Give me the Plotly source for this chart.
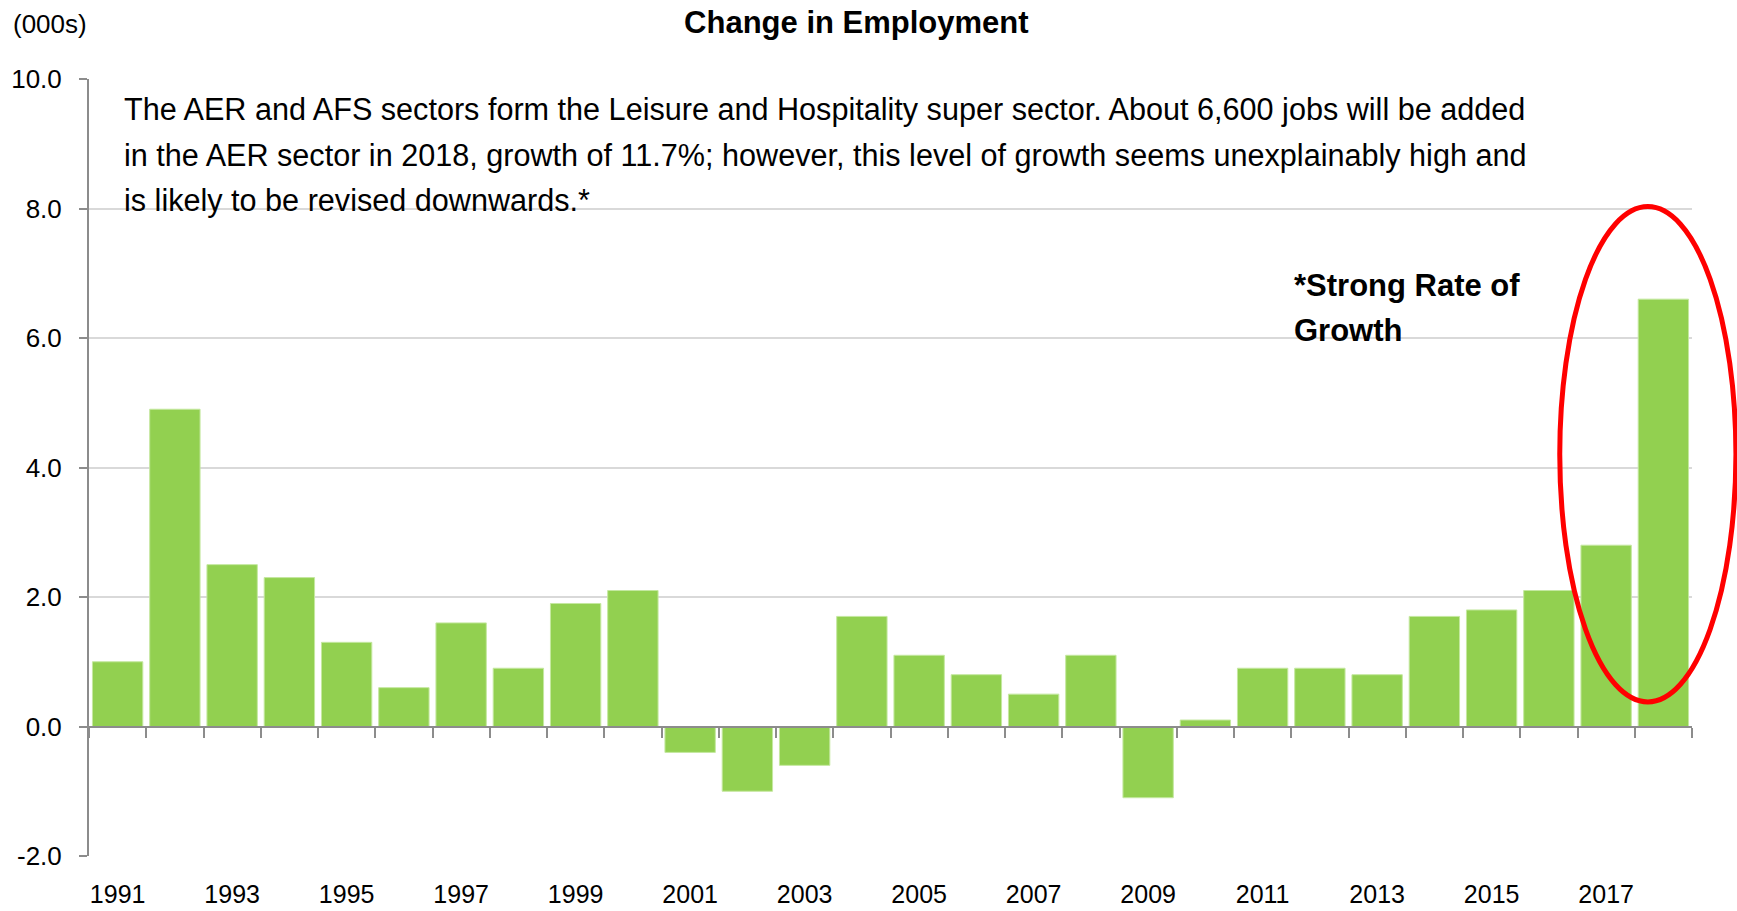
import plotly.graph_objects as go

years = [str(y) for y in range(1991, 2019)]
change = [1.0, 4.9, 2.5, 2.3, 1.3, 0.6, 1.6, 0.9, 1.9, 2.1,
          -0.4, -1.0, -0.6, 1.7, 1.1, 0.8, 0.5, 1.1, -1.1, 0.1,
          0.9, 0.9, 0.8, 1.7, 1.8, 2.1, 2.8, 6.6]
y_ticks = [-2.0, 0.0, 2.0, 4.0, 6.0, 8.0, 10.0]
y_labels = ["-2.0", "0.0", "2.0", "4.0", "6.0", "8.0", "10.0"]

title_text = "Change in Employment"
unit_text = "(000s)"
note_lines = [
    "The AER and AFS sectors form the Leisure and Hospitality super sector. About 6,600 jobs will be added",
    "in the AER sector in 2018, growth of 11.7%; however, this level of growth seems unexplainably high and",
    "is likely to be revised downwards.*",
]
callout_lines = ["*Strong Rate of", "Growth"]

FONT = "Liberation Sans, Arial, sans-serif"

fig = go.Figure()
fig.add_trace(go.Bar(
    x=years, y=change,
    marker=dict(color="#92D050", line=dict(color="#C5E8A0", width=1)),
    xaxis="x", yaxis="y", showlegend=False,
))
# invisible trace carrying the zero-line axis with boundary ticks
fig.add_trace(go.Scatter(x=years, y=[0] * len(years), mode="markers",
                         marker=dict(opacity=0), xaxis="x2", yaxis="y",
                         showlegend=False, hoverinfo="skip"))

fig.update_layout(
    width=1737, height=911,
    paper_bgcolor="white", plot_bgcolor="white",
    margin=dict(l=89, r=45, t=79, b=55, autoexpand=False),
    bargap=0.12,
    font=dict(family=FONT, size=26, color="black"),
    title=dict(text="<b>" + title_text + "</b>", x=0.493, xanchor="center",
               xref="container", y=0.9756, yref="container", yanchor="middle",
               font=dict(family=FONT, size=31)),
    xaxis=dict(type="category", range=[-0.5, len(years) - 0.5], showline=False,
               ticks="", dtick=2, tick0=0, showgrid=False, automargin=False,
               tickfont=dict(size=25), ticklabelstandoff=21),
    xaxis2=dict(type="category", matches="x", overlaying="x", anchor="free",
                position=1/6, showline=True, linecolor="#8C8C8C", linewidth=2,
                ticks="outside", tickson="boundaries", ticklen=10, tickwidth=2,
                tickcolor="#8C8C8C", showticklabels=False, showgrid=False,
                automargin=False),
    yaxis=dict(range=[-2, 10], tickmode="array", tickvals=y_ticks, ticktext=y_labels,
               showgrid=True, gridcolor="#D9D9D9", gridwidth=2, zeroline=False,
               showline=True, linecolor="#8C8C8C", linewidth=2, automargin=False,
               ticks="outside", ticklen=8, tickcolor="#8C8C8C", tickwidth=2,
               tickfont=dict(size=26), ticklabelstandoff=12),
)

fig.add_annotation(text=unit_text, xref="paper", yref="paper", x=-0.0487, y=1.0703,
                   xanchor="left", yanchor="middle", showarrow=False,
                   font=dict(family=FONT, size=26))
for line, yy in zip(note_lines, [0.9605, 0.9017, 0.8433]):
    fig.add_annotation(text=line, xref="paper", yref="paper", x=0.0207, y=yy,
                       xanchor="left", yanchor="middle", align="left", showarrow=False,
                       font=dict(family=FONT, size=30.6))
for line, yy in zip(callout_lines, [0.7339, 0.6768]):
    fig.add_annotation(text="<b>" + line + "</b>", xref="paper", yref="paper",
                       x=0.7505, y=yy, xanchor="left", yanchor="middle", align="left",
                       showarrow=False, font=dict(family=FONT, size=31))

fig.add_shape(type="circle", xref="paper", yref="paper",
              x0=0.9175, x1=1.0274, y0=0.1983, y1=0.8358,
              line=dict(color="#FF0000", width=5), layer="above")

fig.write_html("out.html", config={"displayModeBar": False},
               post_script="document.body.style.margin='0';")
